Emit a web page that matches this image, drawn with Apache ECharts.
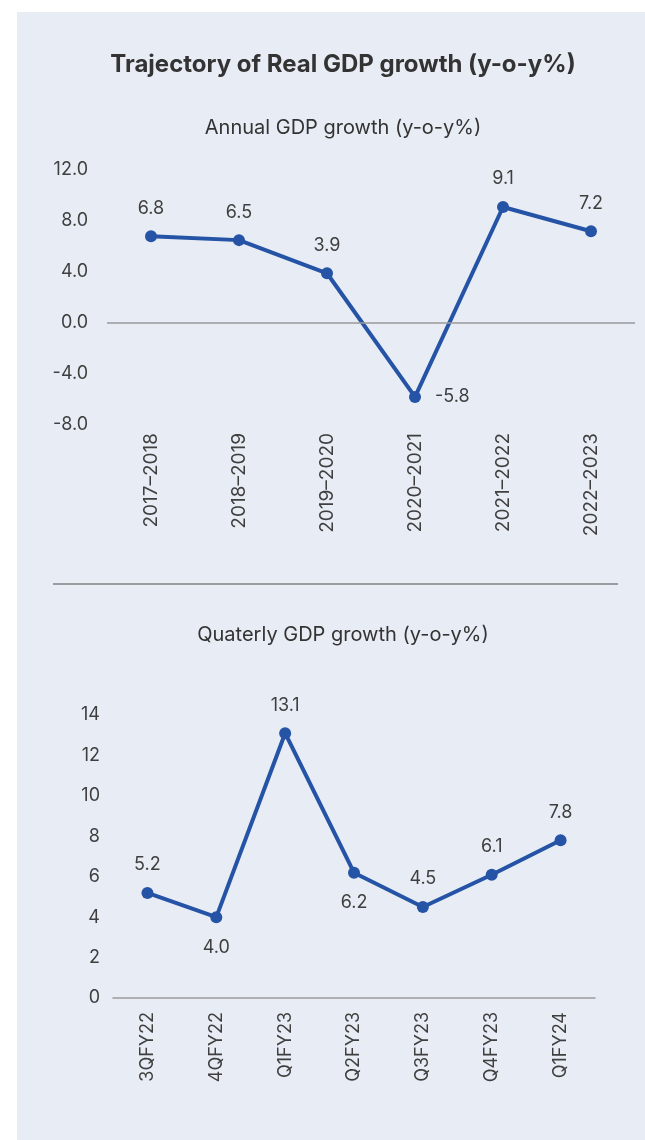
<!DOCTYPE html>
<html><head><meta charset="utf-8">
<script src="https://cdn.jsdelivr.net/npm/echarts@6/dist/echarts.min.js"></script>
<style>html,body{margin:0;padding:0;background:#fff}#c{width:645px;height:1140px}</style>
</head><body><div id="c"></div>
<script>
const annualCats = ['2017–2018','2018–2019','2019–2020','2020–2021','2021–2022','2022–2023'];
const annualVals = [6.8, 6.5, 3.9, -5.8, 9.1, 7.2];
const annualLabelPos = ['top','top','top','right','top','top'];
const quarterCats = ['3QFY22','4QFY22','Q1FY23','Q2FY23','Q3FY23','Q4FY23','Q1FY24'];
const quarterVals = [5.2, 4.0, 13.1, 6.2, 4.5, 6.1, 7.8];
const quarterLabelPos = ['top','bottom','top','bottom','top','top','top'];

const FONT = 'Inter, "Open Sans", sans-serif';
const TXT = '#3f3f3f';
const BLUE = '#2553a5';

function mk(vals, pos) {
  return vals.map((v, i) => ({
    value: v,
    label: { position: pos[i], distance: pos[i] === 'right' ? 14 : (pos[i] === 'bottom' ? 15 : 13) }
  }));
}

const chart = echarts.init(document.getElementById('c'), null, {renderer: 'canvas'});
chart.setOption({
  animation: false,
  backgroundColor: '#ffffff',
  textStyle: { fontFamily: FONT },
  graphic: [
    { type: 'rect', z: -10, shape: { x: 17, y: 12, width: 628, height: 1128 }, style: { fill: '#e8ecf5' } },
    { type: 'line', shape: { x1: 53, y1: 584, x2: 618, y2: 584 }, style: { stroke: '#4a4a4a', lineWidth: 1.2 } }
  ],
  title: [
    { text: 'Trajectory of Real GDP growth (y-o-y%)', left: 338, top: 48, textAlign: 'center',
      textStyle: { fontFamily: FONT, fontSize: 24, fontWeight: 'bold', color: '#333' } },
    { text: 'Annual GDP growth (y-o-y%)', left: 338, top: 113, textAlign: 'center',
      textStyle: { fontFamily: FONT, fontSize: 20, fontWeight: 'normal', color: '#333' } },
    { text: 'Quaterly GDP growth (y-o-y%)', left: 338, top: 620, textAlign: 'center',
      textStyle: { fontFamily: FONT, fontSize: 20, fontWeight: 'normal', color: '#333' } }
  ],
  grid: [
    { left: 107, width: 528, top: 170, height: 255 },
    { left: 113, width: 482, top: 715, height: 283 }
  ],
  xAxis: [
    { type: 'category', gridIndex: 0, data: annualCats, boundaryGap: true,
      axisLine: { show: false, onZero: false }, axisTick: { show: false },
      axisLabel: { rotate: 90, margin: 8, fontSize: 19, color: TXT, fontFamily: FONT } },
    { type: 'category', gridIndex: 1, data: quarterCats, boundaryGap: true,
      axisLine: { show: true, onZero: false, lineStyle: { color: '#9a9a9a', width: 1.5 } }, axisTick: { show: false },
      axisLabel: { rotate: 90, margin: 14, fontSize: 18, color: TXT, fontFamily: FONT } }
  ],
  yAxis: [
    { type: 'value', gridIndex: 0, min: -8, max: 12, interval: 4,
      splitLine: { show: false }, axisLine: { show: false }, axisTick: { show: false },
      axisLabel: { margin: 19, fontSize: 18, color: TXT, fontFamily: FONT, formatter: v => v.toFixed(1) } },
    { type: 'value', gridIndex: 1, min: 0, max: 14, interval: 2,
      splitLine: { show: false }, axisLine: { show: false }, axisTick: { show: false },
      axisLabel: { margin: 13, fontSize: 18, color: TXT, fontFamily: FONT } }
  ],
  series: [
    { type: 'line', xAxisIndex: 0, yAxisIndex: 0, data: mk(annualVals, annualLabelPos),
      symbol: 'circle', symbolSize: 12, lineStyle: { color: BLUE, width: 4 }, itemStyle: { color: BLUE },
      label: { show: true, fontSize: 18, color: TXT, fontFamily: FONT, formatter: p => p.value.toFixed(1) },
      markLine: { silent: true, symbol: 'none', label: { show: false },
        lineStyle: { color: '#9a9a9a', width: 1.5, type: 'solid' }, data: [{ yAxis: 0 }] } },
    { type: 'line', xAxisIndex: 1, yAxisIndex: 1, data: mk(quarterVals, quarterLabelPos),
      symbol: 'circle', symbolSize: 12, lineStyle: { color: BLUE, width: 4 }, itemStyle: { color: BLUE },
      label: { show: true, fontSize: 18, color: TXT, fontFamily: FONT, formatter: p => p.value.toFixed(1) } }
  ]
});
</script></body></html>
